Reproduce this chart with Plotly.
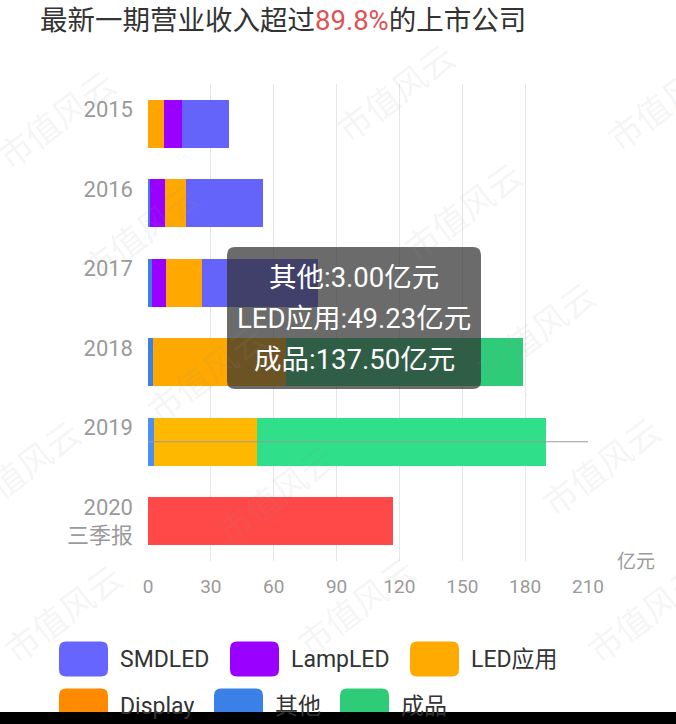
import plotly.graph_objects as go

# ---------------- data ----------------
years = ["2015", "2016", "2017", "2018", "2019", "2020"]
year_labels = ["2015<br> ", "2016<br> ", "2017<br> ", "2018<br> ", "2019<br> ", "2020<br>三季报"]

display_vals = [7.5, 0, 0, 0, 0, 0]
other_vals = [0, 1.1, 1.9, 2.2, 3.00, 0]
lamp_vals = [8.5, 6.8, 6.7, 0, 0, 0]
ledapp_vals = [0, 10.4, 17.0, 63.5, 49.23, 0]
smd_vals = [22.7, 36.6, 55.6, 0, 0, 0]
finished_vals = [0, 0, 0, 113.4, 137.50, 0]
revenue_2020 = [0, 0, 0, 0, 0, 117.0]

x_ticks = [0, 30, 60, 90, 120, 150, 180, 210]

series = [
    ("Display", display_vals, "#FFA400", "#FFB020"),
    ("其他", other_vals, "#3B80E6", "#4A8FF2"),
    ("LampLED", lamp_vals, "#9900FF", "#A520FF"),
    ("LED应用", ledapp_vals, "#FFA800", "#FFB800"),
    ("SMDLED", smd_vals, "#6464FA", "#7474FF"),
    ("成品", finished_vals, "#2ECC78", "#2FDF89"),
    ("营业收入", revenue_2020, "#FF4848", "#FF5858"),
]
legend_items = [
    ("SMDLED", "#6666FF"), ("LampLED", "#9900FF"), ("LED应用", "#FFAA00"),
    ("Display", "#FF8A00"), ("其他", "#3B80E6"), ("成品", "#2ECC78"),
]
hover_year = "2019"
tooltip_series = ["其他", "LED应用", "成品"]

# ---------------- layout helpers ----------------
W, H = 676, 724
L, R, T, B = 148, 588, 84, 561
FONT = "Roboto, 'Noto Sans CJK SC', sans-serif"


def px(x):
    return (x - L) / (R - L)


def py(y):
    return (B - y) / (B - T)


def rrect(x0, y0, x1, y1, r):
    pts = [
        ("M", [(x0 + r, y0)]), ("L", [(x1 - r, y0)]), ("Q", [(x1, y0), (x1, y0 + r)]),
        ("L", [(x1, y1 - r)]), ("Q", [(x1, y1), (x1 - r, y1)]), ("L", [(x0 + r, y1)]),
        ("Q", [(x0, y1), (x0, y1 - r)]), ("L", [(x0, y0 + r)]), ("Q", [(x0, y0), (x0 + r, y0)]),
    ]
    s = ""
    for cmd, ps in pts:
        s += cmd + " ".join(f"{px(a):.5f},{py(b):.5f}" for a, b in ps) + " "
    return s + "Z"


fig = go.Figure()
hi = years.index(hover_year)
for name, vals, col, col_hi in series:
    colors = [col_hi if i == hi else col for i in range(len(years))]
    fig.add_trace(go.Bar(
        y=years, x=vals, name=name, orientation="h",
        marker=dict(color=colors, line=dict(width=0)),
        showlegend=False, hoverinfo="skip",
    ))

shapes = []
annotations = []

# axis pointer line on hovered category (category index on the y axis)
shapes.append(dict(type="line", xref="x", yref="y", x0=0, x1=x_ticks[-1],
                   y0=hi, y1=hi, layer="above",
                   line=dict(color="#9a9a9a", width=1.2)))

# tooltip
shapes.append(dict(type="path", xref="paper", yref="paper", layer="above",
                   path=rrect(227, 247, 481, 389, 8),
                   fillcolor="rgba(50,50,50,0.72)", line=dict(width=0)))
lookup = {n: v for n, v, _, _ in series}
for k, nm in enumerate(tooltip_series):
    annotations.append(dict(
        xref="paper", yref="paper", x=px(354), y=py(277 + 41 * k),
        text=f"{nm}:{lookup[nm][hi]:.2f}亿元", showarrow=False,
        font=dict(family=FONT, size=27.5, color="#ffffff"),
        xanchor="center", yanchor="middle"))

# axis unit
annotations.append(dict(xref="paper", yref="paper", x=px(636), y=py(561),
                        text="亿元", showarrow=False, xanchor="center", yanchor="middle",
                        font=dict(family=FONT, size=19, color="#9a9a9a")))

# custom legend
leg_pos = [(59, 659), (230, 659), (410, 659), (59, 706), (214, 706), (340, 706)]
for (nm, col), (lx, ly) in zip(legend_items, leg_pos):
    shapes.append(dict(type="path", xref="paper", yref="paper", layer="above",
                       path=rrect(lx, ly - 17.5, lx + 49, ly + 17.5, 7),
                       fillcolor=col, line=dict(width=0)))
    annotations.append(dict(xref="paper", yref="paper", x=px(lx + 59), y=py(ly),
                            text=nm, showarrow=False, xanchor="left", yanchor="middle",
                            font=dict(family=FONT, size=23, color="#333333")))

# watermarks
wm_centers = [(55, 118), (140, 232), (205, 372), (275, 493), (355, 605),
              (395, 92), (462, 210), (535, 330), (600, 465), (645, 612),
              (665, 100), (20, 468), (62, 612)]
for cx, cy in wm_centers:
    annotations.append(dict(xref="paper", yref="paper", x=px(cx), y=py(cy),
                            text="市值风云", showarrow=False, textangle=-37,
                            xanchor="center", yanchor="middle",
                            font=dict(family="'Noto Sans CJK SC', sans-serif", size=34,
                                      color="rgba(150,150,150,0.11)")))

# bottom black band of the screenshot
shapes.append(dict(type="rect", xref="paper", yref="paper", layer="above",
                   x0=px(-5), x1=px(W + 5), y0=py(712), y1=py(H + 10),
                   fillcolor="#000000", line=dict(width=0)))

fig.update_layout(
    width=W, height=H,
    margin=dict(l=L, r=W - R, t=T, b=H - B),
    barmode="stack", bargap=0.4,
    paper_bgcolor="white", plot_bgcolor="white",
    title=dict(text="最新一期营业收入超过<span style='color:#E05252'>89.8%</span>的上市公司",
               x=40 / W, xanchor="left", xref="container",
               y=1 - 20 / H, yanchor="middle", yref="container",
               font=dict(family=FONT, size=27.5, color="#333333")),
    xaxis=dict(range=[0, x_ticks[-1]], tickvals=x_ticks, showgrid=True,
               gridcolor="#e6e6e6", gridwidth=1, zeroline=False, showline=False,
               ticks="", ticklabelstandoff=12,
               tickfont=dict(family=FONT, size=19, color="#9a9a9a")),
    yaxis=dict(type="category", categoryorder="array", categoryarray=years,
               range=[len(years) - 0.5, -0.5],
               tickvals=years, ticktext=year_labels,
               showgrid=False, zeroline=False, showline=False, ticks="",
               ticklabelstandoff=14,
               tickfont=dict(family=FONT, size=22, color="#9a9a9a")),
    shapes=shapes, annotations=annotations,
    showlegend=False,
)

fig.write_html("out.html")
